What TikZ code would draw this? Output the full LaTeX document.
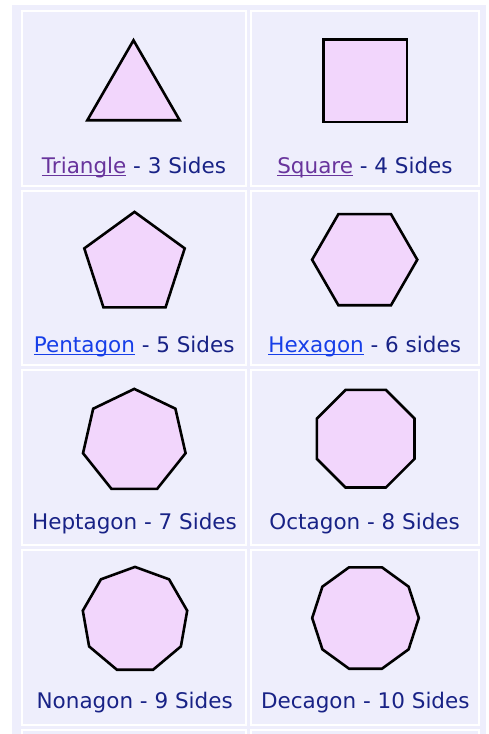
\documentclass[tikz,border=0pt]{standalone}
\usepackage{fontspec}
\setmainfont{DejaVu Sans}
\definecolor{panelc}{RGB}{238,238,252}
\definecolor{shapec}{RGB}{242,214,252}
\definecolor{textc}{RGB}{24,34,134}
\definecolor{visitedc}{RGB}{104,52,156}
\definecolor{linkc}{RGB}{22,62,232}
\newcommand\lnk[2]{\setbox0\hbox{#2}\textcolor{#1}{\rlap{\rule[-2.8pt]{\wd0}{1.5pt}}\box0}}
\tikzset{
  cellbox/.style={draw=white, line width=2pt, fill=panelc},
  polyshape/.style={draw=black, fill=shapec, line width=2.6pt, line join=miter},
  lbl/.style={anchor=base, inner sep=0pt, text=textc, font=\fontsize{21.5}{26}\selectfont}
}
\newcommand\regpoly[5]{% cx, cy, R, n, start angle
  \draw[polyshape] plot[samples at={0,...,#4}] ({#1+#3*cos(#5+360*\x/#4)}, {#2-#3*sin(#5+360*\x/#4)}) -- cycle;}
\begin{document}
\begin{tikzpicture}[x=1pt,y=-1pt]
\useasboundingbox (0,0) rectangle (489,734);
\fill[white] (0,0) rectangle (489,734);
\fill[panelc] (12,5) rectangle (486,734);
% cells
\foreach \r/\t in {1/11,2/190.7,3/370.3,4/550,5/729.7}{
  \draw[cellbox] (22,\t) rectangle (246,\t+174.5);
  \draw[cellbox] (251,\t) rectangle (479,\t+174.5);
}
% shapes
\regpoly{133.5}{93.6}{53.3}{3}{90}
\draw[polyshape] (323.2,39.2) rectangle (406.8,121.8);
\regpoly{134.5}{264.7}{52.8}{5}{90}
\regpoly{364.7}{259.7}{52.6}{6}{0}
\regpoly{134.3}{441.5}{52.6}{7}{90}
\regpoly{365.7}{438.7}{52.8}{8}{22.5}
\regpoly{135}{619.9}{53}{9}{90}
\regpoly{365.5}{618}{53.3}{10}{0}
% labels
\node[lbl] (l3) at (134,173.3) {\lnk{visitedc}{Triangle} - 3 Sides};
\node[lbl] (l4) at (365,173.3) {\lnk{visitedc}{Square} - 4 Sides};
\node[lbl] (l5) at (134.2,352.3) {\lnk{linkc}{Pentagon} - 5 Sides};
\node[lbl] (l6) at (364.7,352.3) {\lnk{linkc}{Hexagon} - 6 sides};
\node[lbl] (l7) at (134.5,529.3) {Heptagon - 7 Sides};
\node[lbl] (l8) at (364.7,529.3) {Octagon - 8 Sides};
\node[lbl] (l9) at (134.7,708.3) {Nonagon - 9 Sides};
\node[lbl] (l10) at (365.3,708.3) {Decagon - 10 Sides};
\end{tikzpicture}
\end{document}
